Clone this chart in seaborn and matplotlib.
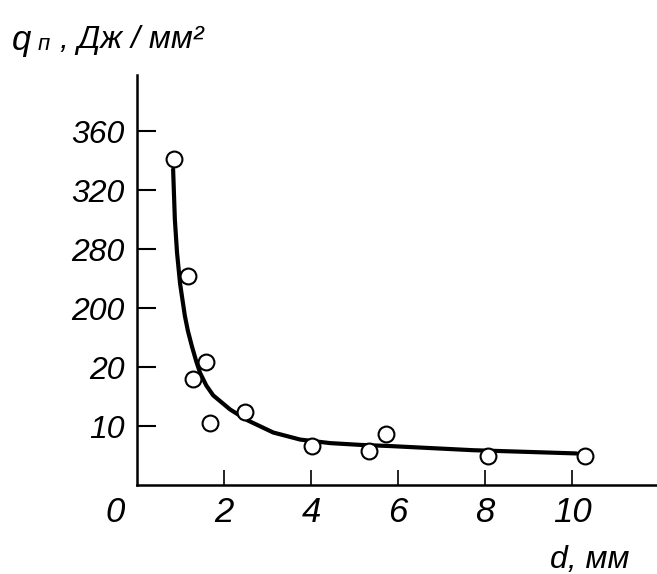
"""Heat flux q_n vs diameter d, scanned chart with a broken (uneven) y scale."""

import numpy as np
import seaborn as sns
import matplotlib.pyplot as plt
from matplotlib.scale import FuncScale

# measured points
d_pts = [0.85, 1.17, 1.29, 1.59, 1.68, 2.48, 4.02, 5.33, 5.72, 8.07, 10.3]
q_pts = [341, 244, 17.9, 35, 10.5, 12.3, 6.6, 5.7, 8.6, 5.0, 5.0]

# fitted curve
d_fit = [0.83, 0.87, 0.92, 0.99, 1.10, 1.17, 1.26, 1.36, 1.45, 1.59, 1.75,
         2.14, 2.53, 3.13, 3.75, 4.44, 5.13, 5.82, 7.72, 10.1]
q_fit = [334, 300, 275, 233, 176, 130, 84, 38, 19.0, 16.9, 15.2,
         12.8, 11.0, 8.9, 7.7, 7.1, 6.8, 6.6, 5.9, 5.35]

# y axis labels (uneven values, evenly spaced on paper)
y_ticks = [10, 20, 200, 280, 320, 360]
y_tick_labels = ["10", "20", "200", "280", "320", "360"]
x_ticks = [2, 4, 6, 8, 10]

# mapping value -> paper position used by the broken scale
scale_vals = [0, 10, 20, 200, 280, 320, 360, 400]
scale_pos = [0, 1, 2, 3, 4, 5, 6, 7]

sns.set_style("ticks")
plt.rcParams["font.family"] = ["Liberation Sans", "DejaVu Sans"]
plt.rcParams["font.style"] = "italic"
plt.rcParams["text.color"] = "black"
plt.rcParams["xtick.color"] = "black"
plt.rcParams["ytick.color"] = "black"

W, H = 657, 574
fig = plt.figure(figsize=(W / 100, H / 100), dpi=100)
ax = fig.add_axes([137 / W, 89 / H, 520 / W, 410 / H])


def fwd(v):
    return np.interp(v, scale_vals, scale_pos)


def inv(p):
    return np.interp(p, scale_pos, scale_vals)


ax.set_yscale(FuncScale(ax.yaxis, (fwd, inv)))

sns.lineplot(x=d_fit, y=q_fit, sort=False, estimator=None, ax=ax,
             color="black", lw=3.0, zorder=2)
sns.scatterplot(x=d_pts, y=q_pts, ax=ax, marker="o", s=130,
                facecolor="white", edgecolor="black", linewidth=1.5, zorder=3)

ax.set_xlim(0, 11.95)
ax.set_ylim(0, inv(6.95))
ax.set_xticks(x_ticks)
ax.set_xticklabels([str(t) for t in x_ticks])
ax.set_yticks(y_ticks)
ax.set_yticklabels(y_tick_labels)
ax.yaxis.set_minor_locator(plt.NullLocator())

ax.tick_params(axis="y", direction="in", length=14, width=1.5, pad=9,
               labelsize=23)
ax.tick_params(axis="x", direction="in", length=11, width=1.2, pad=8,
               labelsize=25)
for s in ["top", "right"]:
    ax.spines[s].set_visible(False)
for s in ["left", "bottom"]:
    ax.spines[s].set_linewidth(1.8)
    ax.spines[s].set_color("black")

# origin label
ax.annotate("0", xy=(0, 0), xytext=(-16, -8), textcoords="offset points",
            ha="center", va="top", fontsize=25, annotation_clip=False)

# axis titles
fig.text(12 / W, 1 - 50 / H, "q", fontsize=25, va="baseline")
fig.text(38 / W, 1 - 50 / H, "п", fontsize=16, va="baseline")
fig.text(60 / W, 1 - 48 / H, ", Дж / мм²", fontsize=23, va="baseline")
fig.text(550 / W, 1 - 568 / H, "d, мм", fontsize=23, va="baseline")

fig.savefig("out.png", dpi=100, facecolor="white")
